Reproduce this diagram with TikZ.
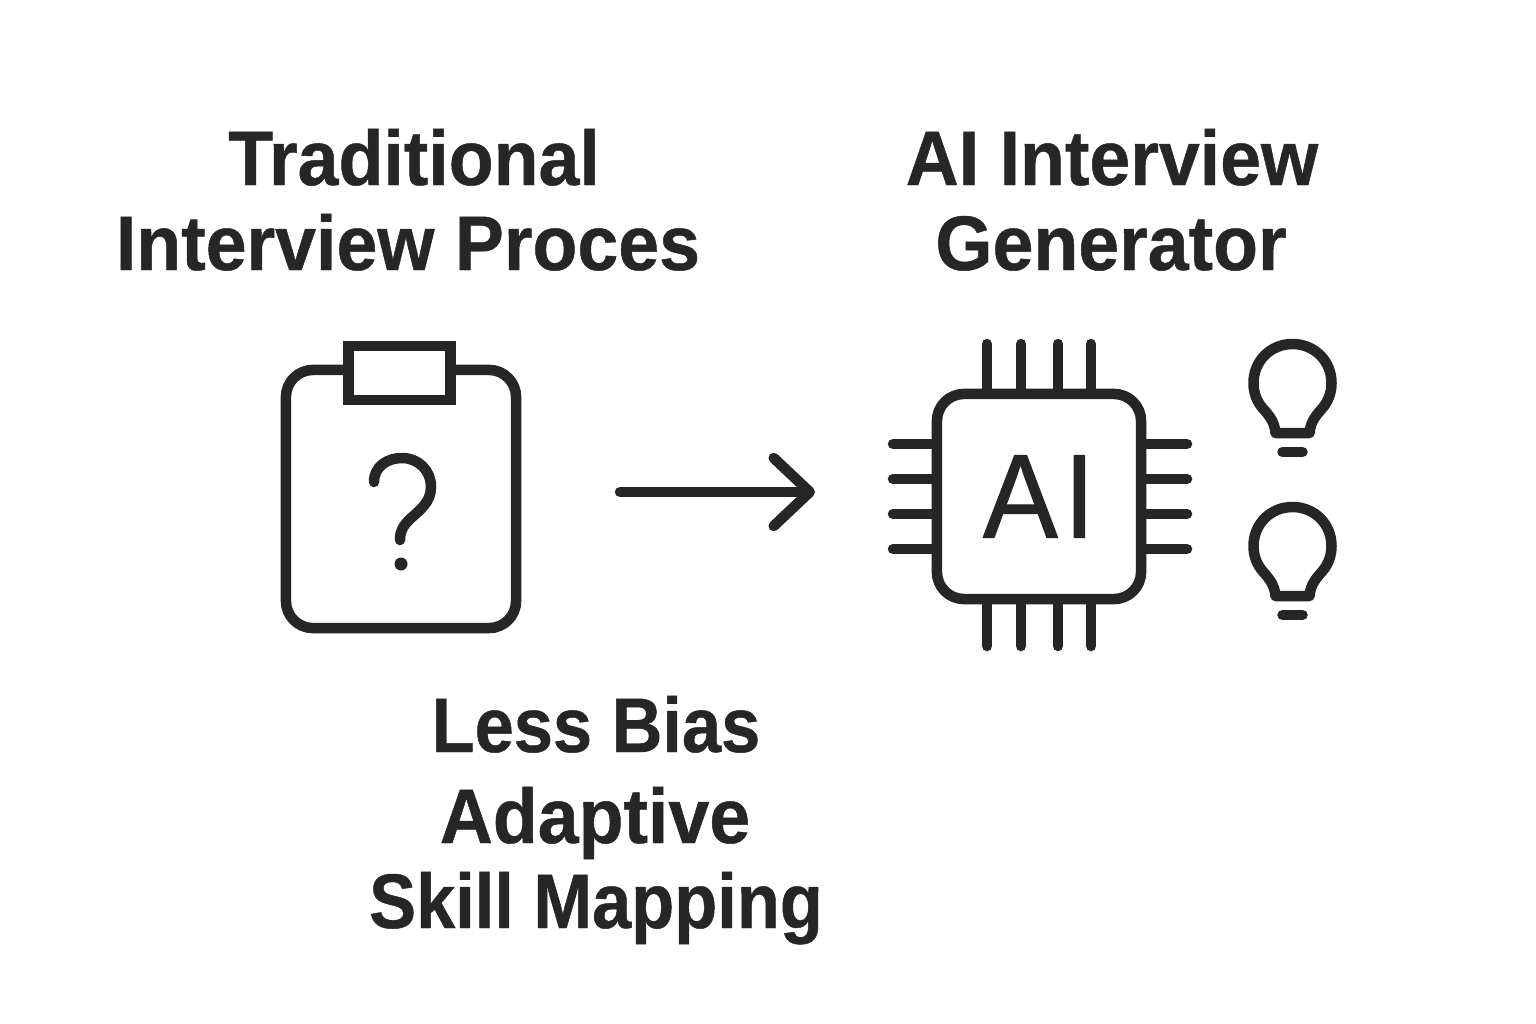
\documentclass[tikz,border=0pt]{standalone}
\usepackage{fontspec}
\setmainfont{Liberation Sans}
\newfontfamily\titlefont[FakeStretch=0.95,FakeBold=0.6]{Liberation Sans Bold}
\newfontfamily\gainfont[FakeStretch=0.91,FakeBold=0.6]{Liberation Sans Bold}
\newfontfamily\chipfont[FakeStretch=0.94,FakeBold=0.9]{Liberation Sans}
\usepackage{tikz}
\usetikzlibrary{arrows.meta,positioning}
\definecolor{inkgray}{HTML}{262626}
\tikzset{>=latex}
\tikzset{
  iconline/.style={draw=inkgray,line width=0.105cm,line cap=round,line join=round},
  title/.style={anchor=base,text=inkgray,font=\fontsize{22}{26}\titlefont},
  gain/.style={title,font=\fontsize{22}{26}\gainfont},
  iconbox/.style={iconline,fill=white,inner sep=0pt,outer sep=0pt},
  lightbulb/.pic={
    \draw[iconline] (-17,50) .. controls (-18,38) and (-24,32) .. (-30,25) .. controls (-35,19) and (-39,11) .. (-39,0) .. controls (-39,-22) and (-22,-39) .. (0,-39) .. controls (22,-39) and (39,-22) .. (39,0) .. controls (39,11) and (35,19) .. (30,25) .. controls (24,32) and (18,38) .. (17,50) -- cycle;
    \draw[iconline] (-10,69) -- (10,69);
  }
}

\begin{document}
\begin{tikzpicture}[x=0.01cm,y=-0.01cm]
\useasboundingbox[fill=white] (0,0) rectangle (1536,1024);
% headings
\node[title] (trad1) at (414,185) {Traditional};
\node[title] (trad2) at (408,270) {Interview Proces};
\node[title] (gen1) at (1112,185) {AI Interview};
\node[title] (gen2) at (1111,270) {Generator};
\node[gain] (gain1) at (596,752) {Less Bias};
\node[title] (gain2) at (595,843) {Adaptive};
\node[gain] (gain3) at (596,928) {Skill Mapping};
% clipboard
\node[iconbox,rounded corners=0.27cm,minimum width=2.3cm,minimum height=2.58cm] (board) at (401,499) {};
\node[iconbox,line join=miter,minimum width=1.02cm,minimum height=0.54cm] (clip) at (399.5,373) {};
\draw[iconline] (374,482) .. controls (374,466) and (388,458) .. (402,458) .. controls (418,458) and (431,470) .. (431,487) .. controls (431,502) and (420,510) .. (410,519) .. controls (403,526) and (400,531) .. (400,540);
\fill[inkgray] (401,564) circle (6.5);
% arrow
\coordinate (arrowstart) at (620,492);
\coordinate (arrowend) at (815,492);
\draw[iconline,-{Straight Barb[length=0.36cm,width=0.68cm,round]}] (arrowstart) -- (arrowend);
% chip pins
\draw[iconline] (987,344) -- (987,394);
\draw[iconline] (1021,344) -- (1021,394);
\draw[iconline] (1058,344) -- (1058,394);
\draw[iconline] (1091,344) -- (1091,394);
\draw[iconline] (987,599) -- (987,646);
\draw[iconline] (1021,599) -- (1021,646);
\draw[iconline] (1058,599) -- (1058,646);
\draw[iconline] (1091,599) -- (1091,646);
\draw[iconline] (893,444) -- (937,444);
\draw[iconline] (893,479) -- (937,479);
\draw[iconline] (893,514) -- (937,514);
\draw[iconline] (893,549) -- (937,549);
\draw[iconline] (1141,444) -- (1187,444);
\draw[iconline] (1141,479) -- (1187,479);
\draw[iconline] (1141,514) -- (1187,514);
\draw[iconline] (1141,549) -- (1187,549);
% chip
\node[iconbox,rounded corners=0.27cm,minimum width=2.04cm,minimum height=2.05cm,text=inkgray,font=\fontsize{34}{34}\chipfont] (chip) at (1039,496.5) {A\kern0.06cm I};
% bulbs
\pic (bulb1) at (1292.5,383) {lightbulb};
\pic (bulb2) at (1292.5,546) {lightbulb};
\end{tikzpicture}
\end{document}
